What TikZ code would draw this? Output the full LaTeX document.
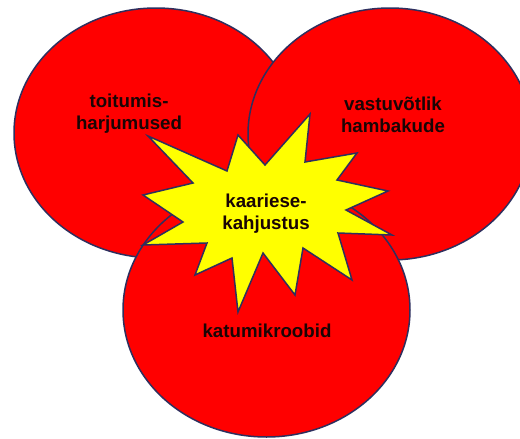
\documentclass[tikz,border=0pt]{standalone}
\usepackage{fontspec}
\setmainfont{Liberation Sans}
\usetikzlibrary{shapes.geometric}
\definecolor{outl}{HTML}{2E2F5E}
\definecolor{redfill}{HTML}{FF0000}
\definecolor{yelfill}{HTML}{FFFF00}
\definecolor{txt}{HTML}{1A0505}
\tikzset{
  blob/.style={ellipse, draw=outl, fill=redfill, line width=1.5pt, inner sep=0pt},
  lbl/.style={align=center, font=\bfseries\fontsize{18.7}{22}\selectfont, text=txt, inner sep=0pt},
  burst/.style={draw=outl, fill=yelfill, line width=1.5pt, line join=miter}
}
\begin{document}
\begin{tikzpicture}[x=1pt,y=-1pt]
\useasboundingbox (0,0) rectangle (520,439);
\clip (0,0) rectangle (520,439);
\fill[white] (0,0) rectangle (520,439);
\node[blob, minimum width=284pt, minimum height=250pt] (left) at (156,133) {};
\node[blob, minimum width=284pt, minimum height=252pt] (right) at (390,134) {};
\node[blob, minimum width=287pt, minimum height=254pt] (bottom) at (266.5,310) {};
\draw[burst] (143,195) -- (193,183) -- (148,136) -- (227,171) -- (238,135) -- (265,165)
  -- (310,114) -- (305,162) -- (357,153) -- (337,180) -- (388,191) -- (346,210)
  -- (392,235) -- (338,233) -- (352,280) -- (303,248) -- (295,295) -- (263,253)
  -- (238,312) -- (232,258) -- (195,275) -- (207,243) -- (143,245) -- (183,222) -- cycle;
\node[lbl] (tl) at (129,114) {toitumis-\\harjumused};
\node[lbl] (tr) at (393,115) {vastuvõtlik\\hambakude};
\node[lbl] (tc) at (266,214) {kaariese-\\kahjustus};
\node[lbl] (tb) at (267,331) {katumikroobid};
\end{tikzpicture}
\end{document}
